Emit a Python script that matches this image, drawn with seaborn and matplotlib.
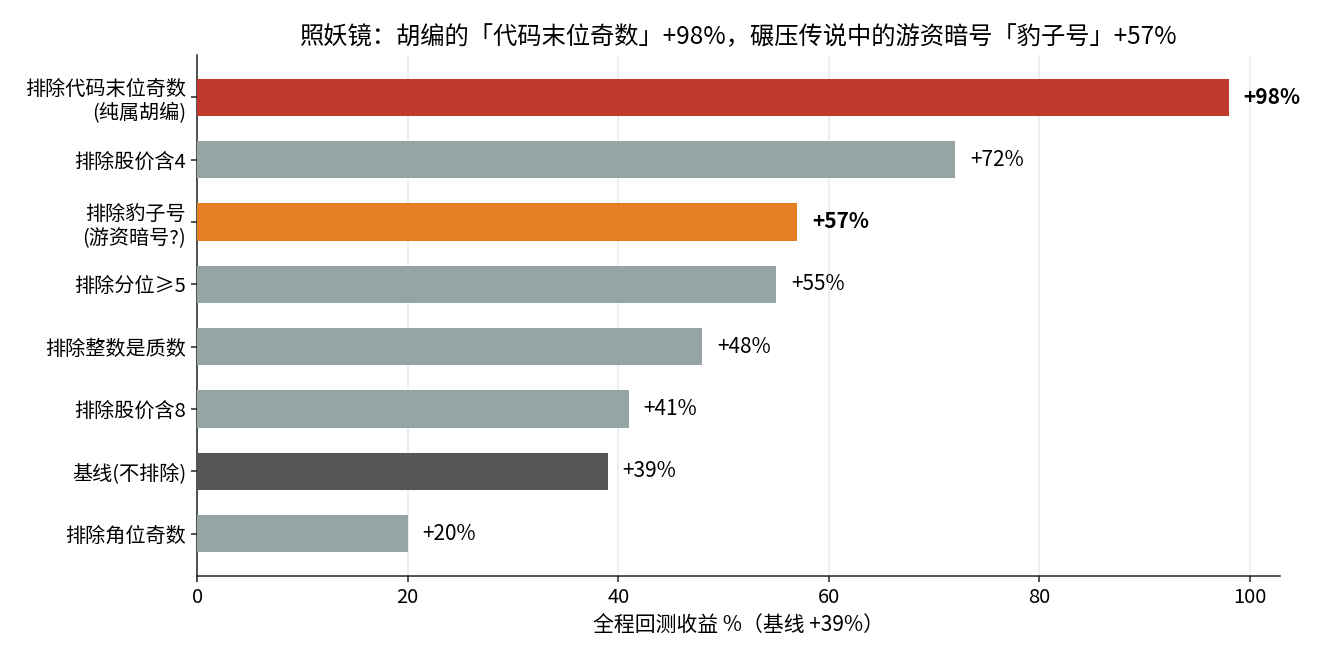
import pandas as pd
import seaborn as sns
import matplotlib.pyplot as plt

labels = ['排除代码末位奇数\n(纯属胡编)', '排除股价含4', '排除豹子号\n(游资暗号?)', '排除分位≥5',
          '排除整数是质数', '排除股价含8', '基线(不排除)', '排除角位奇数']
returns = [98, 72, 57, 55, 48, 41, 39, 20]
colors = ['#c0392b', '#95a5a6', '#e67e22', '#95a5a6', '#95a5a6', '#95a5a6', '#555555', '#95a5a6']
bold_rows = [0, 2]

sns.set_style('white')
plt.rcParams['font.family'] = ['Noto Sans CJK SC', 'DejaVu Sans']
plt.rcParams['axes.unicode_minus'] = False
plt.rcParams['text.color'] = 'black'
plt.rcParams['axes.labelcolor'] = 'black'
plt.rcParams['xtick.color'] = 'black'
plt.rcParams['ytick.color'] = 'black'

df = pd.DataFrame({'label': labels, 'ret': returns})

fig, ax = plt.subplots(figsize=(13.24, 6.62), dpi=100)
sns.barplot(data=df, y='label', x='ret', hue='label', palette=colors, legend=False,
            orient='h', width=0.6, ax=ax, zorder=3, saturation=1, linewidth=0)

ax.set_xlim(0, max(returns) * 1.05)
ax.set_ylim(len(labels) - 1 + 0.68, -0.68)
ax.grid(axis='x', color='#ebebeb', linewidth=1.2, zorder=0)
ax.set_axisbelow(True)
for s in ['top', 'right']:
    ax.spines[s].set_visible(False)
for s in ['left', 'bottom']:
    ax.spines[s].set_color('#222222')
    ax.spines[s].set_linewidth(1.1)
ax.tick_params(axis='both', labelsize=14.5, length=4.5, width=1.1, color='#222222',
               labelcolor='black', left=True, bottom=True)

for i, v in enumerate(returns):
    ax.text(v + 1.4, i, f'+{v}%', va='center', ha='left', fontsize=15, color='black',
            fontweight='bold' if i in bold_rows else 'normal')

ax.set_ylabel('')
ax.set_xlabel('全程回测收益 %（基线 +39%）', fontsize=15, color='black')
ax.set_title('照妖镜：胡编的「代码末位奇数」+98%，碾压传说中的游资暗号「豹子号」+57%',
             fontsize=17.5, pad=8, color='black')

plt.subplots_adjust(left=0.149, right=0.967, top=0.917, bottom=0.13)
plt.savefig('out.png', dpi=100)
